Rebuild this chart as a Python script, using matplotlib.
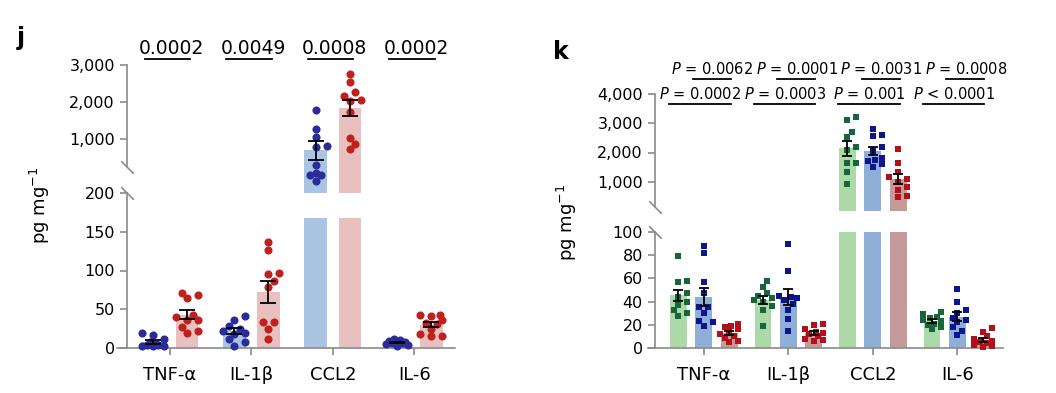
import numpy as np
import matplotlib
matplotlib.use('Agg')
import matplotlib.pyplot as plt
import matplotlib.transforms as mtransforms
from matplotlib.ticker import FuncFormatter

# ---- data ----
cytokines = ['TNF-α', 'IL-1β', 'CCL2', 'IL-6']

# panel j: two groups
j_blue = [[20, 17, 12, 8, 5, 4, 4, 3, 3, 2],
          [41, 36, 29, 25, 22, 20, 18, 12, 8, 3],
          [1784, 1270, 1062, 901, 886, 615, 491, 467, 467, 382],
          [11, 10, 9, 8, 7, 6, 6, 5, 4, 3]]
j_red = [[71, 64, 69, 36, 43, 36, 40, 27, 20, 22],
         [137, 126, 97, 95, 86, 79, 34, 34, 25, 12],
         [2757, 2549, 2262, 2162, 2035, 2054, 1738, 1035, 926, 847],
         [43, 43, 41, 36, 32, 31, 25, 18, 15, 16]]
j_pvals = ['0.0002', '0.0049', '0.0008', '0.0002']

# panel k: three groups
k_green = [[79, 58, 57, 47, 44, 40, 37, 33, 30, 28],
           [58, 53, 47, 45, 43, 41, 40, 36, 33, 19],
           [3225, 3111, 2712, 2541, 2200, 2085, 1630, 1630, 1322, 912],
           [31, 29, 27, 26, 24, 23, 21, 20, 18, 16]]
k_blue = [[88, 82, 57, 47, 35, 35, 30, 23, 19, 22],
          [90, 66, 45, 44, 43, 41, 38, 33, 25, 15],
          [2820, 2600, 2550, 2200, 2050, 1800, 1750, 1700, 1600, 1500],
          [51, 40, 33, 30, 26, 24, 22, 18, 15, 11]]
k_red = [[21, 19, 18, 16, 14, 12, 10, 9, 6, 5],
         [21, 20, 16, 14, 13, 12, 10, 8, 7, 6],
         [2120, 1630, 1345, 1150, 1100, 1000, 830, 720, 500, 480],
         [17, 14, 10, 8, 6, 5, 4, 3, 2, 1]]
k_p_blue_red = ['$\\it{P}$ = 0.0062', '$\\it{P}$ = 0.0001', '$\\it{P}$ = 0.0031', '$\\it{P}$ = 0.0008']
k_p_green_red = ['$\\it{P}$ = 0.0002', '$\\it{P}$ = 0.0003', '$\\it{P}$ = 0.001', '$\\it{P}$ < 0.0001']

GRAY = '#8a8a8a'
W, H = 1056, 393
J_GAP = 168  # where the lower part of the broken bars stops in j

plt.rcParams['font.family'] = ['DejaVu Sans']


def frac(x0, y0, x1, y1):
    return [x0 / W, 1 - y1 / H, (x1 - x0) / W, (y1 - y0) / H]


def style(ax, xlim, spine_x, bottom):
    ax.set_facecolor('none')
    ax.set_xlim(*xlim)
    for s in ['top', 'right']:
        ax.spines[s].set_visible(False)
    ax.spines['left'].set_position(('data', spine_x))
    ax.spines['left'].set_color(GRAY)
    ax.spines['left'].set_linewidth(1.2)
    ax.tick_params(axis='y', colors=GRAY, labelcolor='black', length=5,
                   width=1.2, labelsize=11.5)
    ax.yaxis.set_major_formatter(FuncFormatter(lambda v, p: f'{v:,.0f}'))
    if bottom:
        ax.spines['bottom'].set_color(GRAY)
        ax.spines['bottom'].set_linewidth(1.2)
        ax.set_xticks(np.arange(len(cytokines)))
        ax.set_xticklabels(cytokines)
        ax.tick_params(axis='x', colors=GRAY, labelcolor='black', length=5,
                       width=1.2, labelsize=13, pad=8)
    else:
        ax.spines['bottom'].set_visible(False)
        ax.set_xticks([])


def slash(ax, x, y):
    ax.plot([x], [y], marker=[(-1, 1), (1, -1)], markersize=9, mec=GRAY,
            mew=1.2, clip_on=False, zorder=6)


def swarm(ax, xc, vals, diam, max_off):
    # keep the dots inside the bar, pushing sideways only when they collide
    pts = ax.transData.transform(np.column_stack([np.full(len(vals), xc),
                                                  np.asarray(vals, float)]))
    cands = max_off * np.array([0, 0.5, -0.5, 1, -1, 0.25, -0.25, 0.75, -0.75])
    placed = []
    xs = np.zeros(len(vals))
    for i in np.argsort(pts[:, 1]):
        px, py = pts[i]
        best, best_d = px, -1
        for c in cands:
            cx = px + c
            d = min([np.hypot(cx - qx, py - qy) for qx, qy in placed] + [1e9])
            if d >= 0.9 * diam:
                best = cx
                break
            if d > best_d:
                best, best_d = cx, d
        placed.append((best, py))
        xs[i] = ax.transData.inverted().transform((best, py))[0]
    return xs


def draw(ax_lo, ax_hi, groups, offsets, width, bar_cols, dot_cols, marker,
         s, diam, max_off, capsize, gap=None):
    lo_top = ax_lo.get_ylim()[1]
    for g, (grp, off, bc, dc) in enumerate(zip(groups, offsets, bar_cols, dot_cols)):
        for i, vals in enumerate(grp):
            v = np.asarray(vals, float)
            m = v.mean()
            sem = v.std(ddof=1) / np.sqrt(len(v))
            xp = i + off
            broken = m > lo_top
            h_lo = m if not broken else (gap if gap else lo_top)
            ax_lo.bar(xp, h_lo, width=width, color=bc, zorder=1)
            ax = ax_lo
            if broken:
                ax_hi.bar(xp, m, width=width, color=bc, zorder=1)
                ax = ax_hi
            xs = swarm(ax, xp, v, diam, max_off)
            ax.scatter(xs, v, s=s, marker=marker, color=dc, lw=0, zorder=3,
                       clip_on=False)
            ax.errorbar(xp, m, yerr=sem, fmt='none', ecolor='black',
                        elinewidth=1.3, capsize=capsize, capthick=1.3,
                        zorder=4, clip_on=False)


fig = plt.figure(figsize=(W / 100, H / 100), dpi=100)

# ---------------- panel j ----------------
jb = fig.add_axes(frac(117, 193, 455, 348))
jt = fig.add_axes(frac(117, 65, 455, 193))
j_xlim, j_sx = (-0.65, 3.5), -0.53
style(jb, j_xlim, j_sx, True)
style(jt, j_xlim, j_sx, False)
jb.set_ylim(0, 200)
jb.set_yticks([0, 50, 100, 150, 200])


def fwd(v):
    v = np.asarray(v, float)
    return np.where(v < 1000, (v - 1000) / 800 * 1.459, (v - 1000) / 1000)


def inv(u):
    u = np.asarray(u, float)
    return np.where(u < 0, 1000 + u * 800 / 1.459, 1000 + u * 1000)


jt.set_yscale('function', functions=(fwd, inv))
jt.set_ylim(200, 3000)
jt.set_yticks([1000, 2000, 3000])
jt.yaxis.set_major_formatter(FuncFormatter(lambda v, p: f'{v:,.0f}'))
jt.yaxis.set_minor_locator(matplotlib.ticker.NullLocator())
jt.spines['left'].set_bounds(585, 3000)
slash(jt, j_sx, 585)
slash(jb, j_sx, 200)

draw(jb, jt, [j_blue, j_red], [-0.21, 0.21], 0.28,
     ['#a9c5e3', '#e8c0c0'], ['#2b2c9c', '#c0211f'], 'o', 34, 8, 11, 6,
     gap=J_GAP)

tj = mtransforms.blended_transform_factory(jt.transData, fig.transFigure)
for i, p in enumerate(j_pvals):
    jt.text(i + 0.02, 1 - 48 / H, p, transform=tj, ha='center', va='center',
            fontsize=13.5)
    jt.plot([i - 0.31, i + 0.25], [1 - 59 / H] * 2, transform=tj, color='black',
            lw=1.3, clip_on=False)

fig.text(40 / W, 1 - 205 / H, 'pg mg$^{-1}$', rotation=90, ha='center',
         va='center', fontsize=13)
fig.text(17 / W, 1 - 38 / H, 'j', fontsize=17, fontweight='bold', va='center')

# ---------------- panel k ----------------
kb = fig.add_axes(frac(648, 232, 1003, 348))
kt = fig.add_axes(frac(648, 94, 1003, 211))
k_xlim, k_sx = (-0.66, 3.54), -0.58
style(kb, k_xlim, k_sx, True)
style(kt, k_xlim, k_sx, False)
kb.set_ylim(0, 100)
kb.set_yticks([0, 20, 40, 60, 80, 100])
kt.set_ylim(0, 4000)
kt.set_yticks([1000, 2000, 3000, 4000])
kt.spines['left'].set_bounds(137, 4000)
slash(kt, k_sx, 137)
slash(kb, k_sx, 100)

draw(kb, kt, [k_green, k_blue, k_red], [-0.3, 0.0, 0.3], 0.2,
     ['#abd9a7', '#90afd8', '#c49a9a'], ['#17663b', '#0b168e', '#b5101a'],
     's', 24, 7, 9, 3.5)

tk = mtransforms.blended_transform_factory(kt.transData, fig.transFigure)
for i, (p1, p2) in enumerate(zip(k_p_blue_red, k_p_green_red)):
    kt.text(i + 0.1, 1 - 69 / H, p1, transform=tk, ha='center', va='center',
            fontsize=10.5)
    kt.plot([i - 0.13, i + 0.32], [1 - 79 / H] * 2, transform=tk,
            color='black', lw=1.3, clip_on=False)
    kt.text(i - 0.04, 1 - 94 / H, p2, transform=tk, ha='center', va='center',
            fontsize=10.5)
    kt.plot([i - 0.41, i + 0.32], [1 - 104 / H] * 2, transform=tk,
            color='black', lw=1.3, clip_on=False)

fig.text(567 / W, 1 - 222 / H, 'pg mg$^{-1}$', rotation=90, ha='center',
         va='center', fontsize=13)
fig.text(553 / W, 1 - 52 / H, 'k', fontsize=17, fontweight='bold', va='center')

fig.savefig('out.png', dpi=100)
